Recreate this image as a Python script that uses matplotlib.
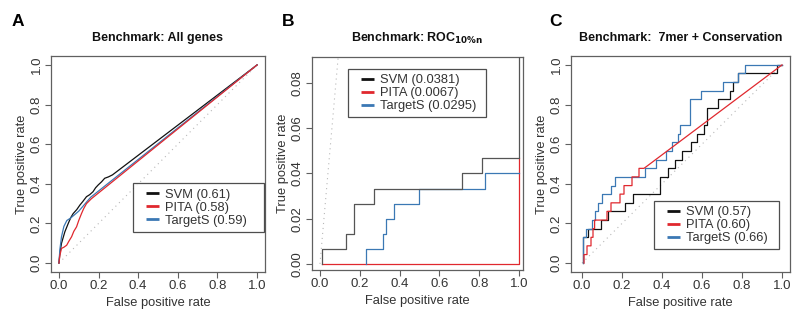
import matplotlib
matplotlib.use("Agg")
import matplotlib.pyplot as plt
from matplotlib.lines import Line2D
from matplotlib.legend_handler import HandlerBase

plt.rcParams['font.family'] = ['Liberation Sans', 'DejaVu Sans']

# ---------------- data ----------------
# Panel A: Benchmark: All genes
a_svm_fpr = [0, 0.005, 0.013, 0.03, 0.047, 0.06, 0.072, 0.09, 0.106, 0.12, 0.139, 0.155, 0.172, 0.185, 0.198, 0.215, 0.231, 0.25, 0.27, 1.0]
a_svm_tpr = [0, 0.05, 0.10, 0.158, 0.20, 0.23, 0.25, 0.27, 0.293, 0.31, 0.335, 0.345, 0.36, 0.38, 0.394, 0.41, 0.428, 0.435, 0.445, 1.0]
a_pita_fpr = [0, 0.005, 0.013, 0.025, 0.039, 0.05, 0.064, 0.075, 0.089, 0.10, 0.114, 0.125, 0.139, 0.164, 1.0]
a_pita_tpr = [0, 0.04, 0.074, 0.08, 0.09, 0.11, 0.133, 0.16, 0.183, 0.215, 0.25, 0.275, 0.30, 0.325, 1.0]
a_tgt_fpr = [0, 0.005, 0.013, 0.025, 0.04, 0.06, 0.10, 0.16, 1.0]
a_tgt_tpr = [0, 0.07, 0.133, 0.185, 0.215, 0.228, 0.262, 0.332, 1.0]
a_labels = ["SVM (0.61)", "PITA (0.58)", "TargetS (0.59)"]

# Panel B: Benchmark: ROC10%n
b_svm_fpr = [0.012, 0.012, 0.13, 0.13, 0.173, 0.173, 0.27, 0.27, 0.714, 0.714, 0.812, 0.812, 1.0, 1.0]
b_svm_tpr = [0, 0.00667, 0.00667, 0.01333, 0.01333, 0.02667, 0.02667, 0.03333, 0.03333, 0.04, 0.04, 0.04667, 0.04667, 1.0]
b_pita_fpr = [0.012, 1.0, 1.0]
b_pita_tpr = [0, 0, 0.04667]
b_tgt_fpr = [0.229, 0.229, 0.315, 0.315, 0.33, 0.33, 0.372, 0.372, 0.499, 0.499, 0.829, 0.829, 1.0]
b_tgt_tpr = [0, 0.00667, 0.00667, 0.01333, 0.01333, 0.02, 0.02, 0.02667, 0.02667, 0.03333, 0.03333, 0.04, 0.04]
b_labels = ["SVM (0.0381)", "PITA (0.0067)", "TargetS (0.0295)"]

# Panel C: Benchmark: 7mer + Conservation
c_svm_fpr = [0.005, 0.005, 0.03, 0.03, 0.097, 0.097, 0.13, 0.13, 0.213, 0.213, 0.255, 0.255, 0.39, 0.39,
             0.43, 0.43, 0.463, 0.463, 0.5, 0.5, 0.545, 0.545, 0.575, 0.575, 0.61, 0.61, 0.625, 0.625,
             0.68, 0.68, 0.74, 0.74, 0.755, 0.755, 0.78, 0.78, 0.975, 0.975, 1.0]
c_svm_tpr = [0, 0.130, 0.130, 0.174, 0.174, 0.217, 0.217, 0.261, 0.261, 0.304, 0.304, 0.348, 0.348, 0.435,
             0.435, 0.478, 0.478, 0.522, 0.522, 0.565, 0.565, 0.609, 0.609, 0.652, 0.652, 0.696, 0.696, 0.783,
             0.783, 0.826, 0.826, 0.870, 0.870, 0.913, 0.913, 0.957, 0.957, 1.0, 1.0]
c_pita_fpr = [0.01, 0.01, 0.025, 0.025, 0.045, 0.045, 0.055, 0.055, 0.063, 0.063, 0.125, 0.125, 0.145, 0.145,
              0.19, 0.19, 0.21, 0.21, 0.25, 0.25, 0.285, 0.285, 0.31, 1.0]
c_pita_tpr = [0, 0.043, 0.043, 0.087, 0.087, 0.130, 0.130, 0.174, 0.174, 0.217, 0.217, 0.261, 0.261, 0.304,
              0.304, 0.348, 0.348, 0.391, 0.391, 0.435, 0.435, 0.478, 0.478, 1.0]
c_tgt_fpr = [0.005, 0.005, 0.02, 0.02, 0.05, 0.05, 0.065, 0.065, 0.08, 0.08, 0.10, 0.10, 0.145, 0.145,
             0.163, 0.163, 0.313, 0.313, 0.37, 0.37, 0.42, 0.42, 0.45, 0.45, 0.48, 0.48, 0.49, 0.49,
             0.538, 0.538, 0.597, 0.597, 0.705, 0.705, 0.78, 0.78, 0.813, 0.813, 1.0]
c_tgt_tpr = [0, 0.130, 0.130, 0.174, 0.174, 0.217, 0.217, 0.261, 0.261, 0.304, 0.304, 0.348, 0.348, 0.391,
             0.391, 0.435, 0.435, 0.478, 0.478, 0.522, 0.522, 0.565, 0.565, 0.609, 0.609, 0.652, 0.652, 0.696,
             0.696, 0.826, 0.826, 0.870, 0.870, 0.913, 0.913, 0.957, 0.957, 1.0, 1.0]
c_labels = ["SVM (0.57)", "PITA (0.60)", "TargetS (0.66)"]

titles = ["Benchmark: All genes", r"Benchmark: ROC$_{\mathbf{10\%n}}$", "Benchmark:  7mer + Conservation"]
letters = ["A", "B", "C"]
ticks_full = [0.0, 0.2, 0.4, 0.6, 0.8, 1.0]
ticks_b = [0.00, 0.02, 0.04, 0.06, 0.08]

# ---------------- styling ----------------
C_SVM = "#111111"
C_PITA = "#e0282e"
C_TGT = "#3b78b4"
TXT = "#333333"
SPINE = "#606060"

fig = plt.figure(figsize=(8.0, 3.21), dpi=100)
W, H = 800, 321


class OffsetLineHandler(HandlerBase):
    """Legend line drawn in the right part of the handle box (R-style inset)."""
    def __init__(self, frac=0.36, **kw):
        super().__init__(**kw)
        self.frac = frac

    def create_artists(self, legend, orig_handle, xdescent, ydescent, width, height,
                       fontsize, trans):
        y = height / 2 - ydescent
        x0 = -xdescent + width * self.frac
        x1 = -xdescent + width
        ln = Line2D([x0, x1], [y, y], color=orig_handle.get_color(),
                    lw=orig_handle.get_linewidth(), solid_capstyle="butt")
        ln.set_transform(trans)
        return [ln]


def ax_at(l, t, r, b):
    return fig.add_axes([l / W, 1 - b / H, (r - l) / W, (b - t) / H])

axA = ax_at(51, 56, 265, 272)
axB = ax_at(312, 57, 523, 270)
axC = ax_at(571, 56, 790, 272)

def style(ax, yticks, yfmt):
    for s in ax.spines.values():
        s.set_color(SPINE)
        s.set_linewidth(0.9)
    ax.set_xticks(ticks_full)
    ax.set_xticklabels([f"{t:.1f}" for t in ticks_full])
    ax.set_yticks(yticks)
    ax.set_yticklabels([yfmt.format(t) for t in yticks], rotation=90, va="center")
    ax.tick_params(direction="out", length=4, width=0.8, color=SPINE,
                   labelsize=9.5, labelcolor=TXT, pad=2)
    ax.set_xlabel("False positive rate", fontsize=9.3, color=TXT, labelpad=3.5)
    ax.set_ylabel("True positive rate", fontsize=9.3, color=TXT, labelpad=2)

def diag(ax):
    ax.plot([0, 1], [0, 1], color="#b8b8b8", lw=0.8, ls=(0, (1, 3.5)), zorder=1)

def legend(ax, labels, box):
    handles = [Line2D([], [], color=c, lw=2) for c in (C_SVM, C_PITA, C_TGT)]
    x0, y_top, x1 = box
    hm = {h: OffsetLineHandler() for h in handles}
    lg = ax.legend(handles, labels, loc="upper left", bbox_to_anchor=(x0, y_top - 0.2, x1 - x0, 0.2),
                   mode="expand", fontsize=9.3, handler_map=hm,
                   frameon=True, fancybox=False, handlelength=1.6, handletextpad=0.5,
                   borderpad=0.4, labelspacing=0.08, borderaxespad=0)
    lg.get_frame().set_edgecolor("#222222")
    lg.get_frame().set_linewidth(0.9)
    for t in lg.get_texts():
        t.set_color(TXT)

# Panel A
diag(axA)
axA.plot(a_svm_fpr, a_svm_tpr, color=C_SVM, lw=0.9, zorder=3)
axA.plot(a_tgt_fpr, a_tgt_tpr, color=C_TGT, lw=0.9, zorder=3)
axA.plot(a_pita_fpr, a_pita_tpr, color=C_PITA, lw=0.9, zorder=3)
axA.set_xlim(-0.04, 1.04)
axA.set_ylim(-0.045, 1.045)
style(axA, ticks_full, "{:.1f}")
legend(axA, a_labels, (0.383, 0.41, 0.995))

# Panel B
diag(axB)
axB.plot(b_pita_fpr, b_pita_tpr, color=C_PITA, lw=0.9, zorder=3)
axB.plot(b_tgt_fpr, b_tgt_tpr, color=C_TGT, lw=0.9, zorder=3)
axB.plot(b_svm_fpr, b_svm_tpr, color="#555555", lw=0.9, zorder=4)
axB.set_xlim(-0.04, 1.02)
axB.set_ylim(-0.0027, 0.0915)
style(axB, ticks_b, "{:.2f}")
legend(axB, b_labels, (0.171, 0.944, 0.825))

# Panel C
diag(axC)
axC.plot(c_svm_fpr, c_svm_tpr, color=C_SVM, lw=0.9, zorder=3)
axC.plot(c_tgt_fpr, c_tgt_tpr, color=C_TGT, lw=0.9, zorder=3)
axC.plot(c_pita_fpr, c_pita_tpr, color=C_PITA, lw=0.9, zorder=3)
axC.set_xlim(-0.055, 1.04)
axC.set_ylim(-0.045, 1.045)
style(axC, ticks_full, "{:.1f}")
legend(axC, c_labels, (0.379, 0.329, 0.95))

# titles and panel letters
for ax, ttl in zip((axA, axB, axC), titles):
    bb = ax.get_position()
    cx = (bb.x0 + bb.x1) / 2
    fig.text(cx, 1 - 38 / H, ttl, ha="center", va="center",
             fontsize=9, fontweight="bold", color="#111111")

for x, L in zip((18, 288, 556), letters):
    fig.text(x / W, 1 - 21 / H, L, ha="center", va="center", fontsize=12.5,
             fontweight="bold", color="#000000")

fig.savefig("out.png", dpi=100, facecolor="white")
